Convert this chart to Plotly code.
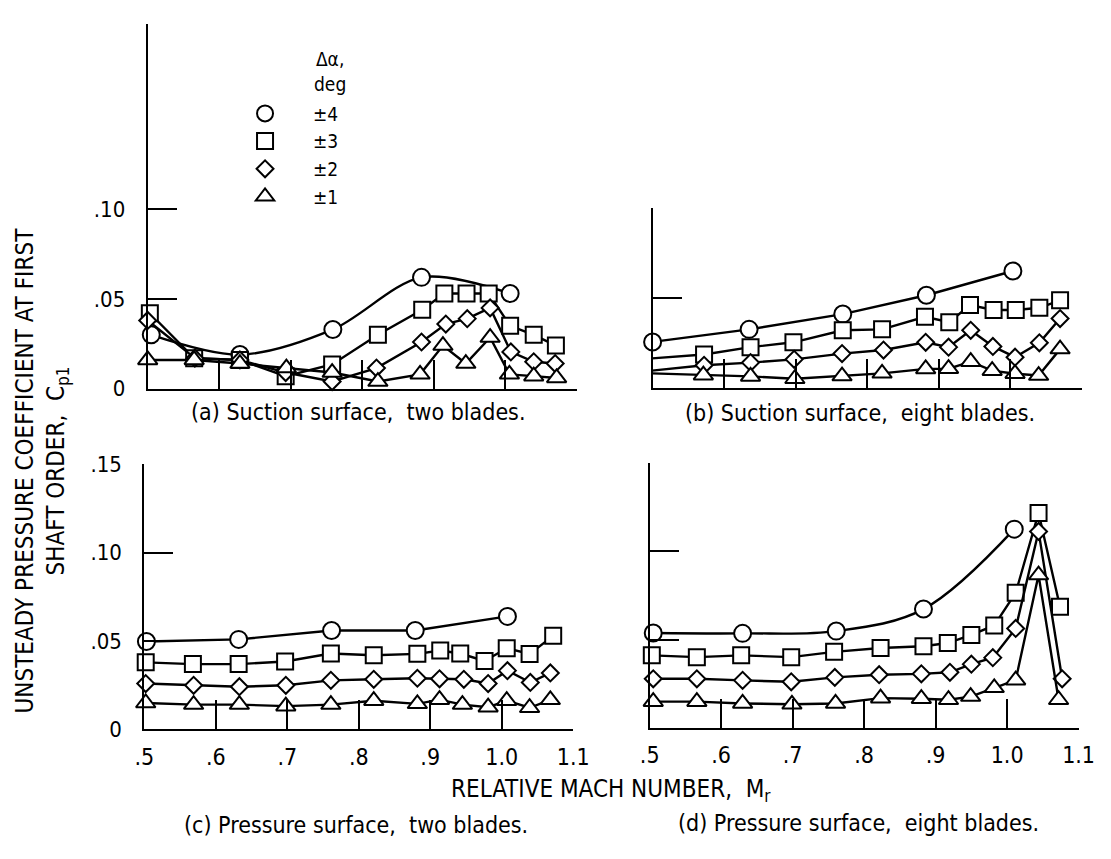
import plotly.graph_objects as go

# ---------------- data ----------------
series_names = ["±4", "±3", "±2", "±1"]

# (a) Suction surface, two blades
a_c_x = [0.505, 0.629, 0.759, 0.883, 1.007]
a_c_y = [0.030, 0.019, 0.033, 0.062, 0.053]
a_s_x = [0.503, 0.565, 0.629, 0.693, 0.758, 0.822, 0.884, 0.915, 0.946, 0.977, 1.007, 1.040, 1.071]
a_s_y = [0.042, 0.017, 0.016, 0.007, 0.0135, 0.030, 0.044, 0.053, 0.053, 0.053, 0.035, 0.030, 0.024]
a_d_x = [0.500, 0.566, 0.629, 0.693, 0.758, 0.820, 0.883, 0.917, 0.947, 0.979, 1.008, 1.040, 1.070]
a_d_y = [0.038, 0.017, 0.016, 0.009, 0.004, 0.0115, 0.026, 0.036, 0.039, 0.045, 0.0205, 0.015, 0.014]
a_t_x = [0.500, 0.565, 0.629, 0.694, 0.758, 0.822, 0.881, 0.913, 0.945, 0.979, 1.006, 1.040, 1.072]
a_t_y = [0.016, 0.016, 0.014, 0.0115, 0.009, 0.004, 0.008, 0.024, 0.014, 0.0285, 0.008, 0.007, 0.006]

# (b) Suction surface, eight blades
b_c_x = [0.500, 0.635, 0.766, 0.883, 1.004]
b_c_y = [0.0255, 0.0325, 0.041, 0.0515, 0.065]
b_s_x = [0.497, 0.572, 0.637, 0.697, 0.766, 0.821, 0.881, 0.915, 0.944, 0.977, 1.008, 1.041, 1.070]
b_s_y = [0.0163, 0.0185, 0.0226, 0.0253, 0.032, 0.0325, 0.0395, 0.0365, 0.046, 0.0433, 0.0433, 0.0445, 0.0487]
b_d_x = [0.498, 0.572, 0.637, 0.698, 0.765, 0.823, 0.882, 0.914, 0.945, 0.976, 1.007, 1.041, 1.070]
b_d_y = [0.0095, 0.0125, 0.014, 0.0158, 0.019, 0.021, 0.0253, 0.0226, 0.032, 0.023, 0.017, 0.025, 0.0385]
b_t_x = [0.499, 0.571, 0.637, 0.699, 0.765, 0.821, 0.882, 0.914, 0.945, 0.975, 1.007, 1.040, 1.070]
b_t_y = [0.008, 0.007, 0.0063, 0.005, 0.0065, 0.008, 0.0105, 0.0106, 0.0145, 0.0095, 0.0078, 0.0068, 0.0215]

# (c) Pressure surface, two blades
c_c_x = [0.503, 0.632, 0.762, 0.879, 1.008]
c_c_y = [0.0498, 0.051, 0.056, 0.056, 0.064]
c_s_x = [0.502, 0.568, 0.632, 0.697, 0.761, 0.821, 0.882, 0.914, 0.942, 0.976, 1.007, 1.039, 1.072]
c_s_y = [0.038, 0.037, 0.037, 0.0385, 0.043, 0.042, 0.0428, 0.0447, 0.043, 0.0388, 0.046, 0.0427, 0.053]
c_d_x = [0.502, 0.569, 0.633, 0.698, 0.761, 0.821, 0.882, 0.913, 0.947, 0.981, 1.008, 1.040, 1.068]
c_d_y = [0.026, 0.025, 0.0242, 0.025, 0.0278, 0.0284, 0.029, 0.0287, 0.0284, 0.026, 0.0333, 0.0266, 0.032]
c_t_x = [0.502, 0.569, 0.633, 0.698, 0.761, 0.821, 0.882, 0.913, 0.945, 0.981, 1.007, 1.039, 1.068]
c_t_y = [0.015, 0.0141, 0.0141, 0.0132, 0.0141, 0.0163, 0.0145, 0.0169, 0.0141, 0.0126, 0.0163, 0.0123, 0.0168]

# (d) Pressure surface, eight blades
d_c_x = [0.505, 0.630, 0.761, 0.883, 1.010]
d_c_y = [0.0537, 0.0535, 0.0548, 0.0673, 0.1127]
d_s_x = [0.503, 0.566, 0.628, 0.698, 0.758, 0.823, 0.883, 0.917, 0.950, 0.982, 1.012, 1.044, 1.074]
d_s_y = [0.041, 0.040, 0.041, 0.040, 0.043, 0.0452, 0.0462, 0.048, 0.0526, 0.058, 0.0765, 0.1219, 0.0686]
d_d_x = [0.505, 0.566, 0.630, 0.698, 0.759, 0.821, 0.880, 0.920, 0.950, 0.980, 1.012, 1.044, 1.077]
d_d_y = [0.0277, 0.0277, 0.0268, 0.026, 0.0285, 0.030, 0.0305, 0.0314, 0.036, 0.0397, 0.0563, 0.1114, 0.0277]
d_t_x = [0.505, 0.566, 0.630, 0.699, 0.760, 0.823, 0.880, 0.918, 0.949, 0.982, 1.012, 1.044, 1.072]
d_t_y = [0.0147, 0.0147, 0.0137, 0.0132, 0.0137, 0.0167, 0.0164, 0.0158, 0.0176, 0.0226, 0.0269, 0.0866, 0.0158]

x_tick_vals = [0.5, 0.6, 0.7, 0.8, 0.9, 1.0, 1.1]
x_tick_text = [".5", ".6", ".7", ".8", ".9", "1.0", "1.1"]
y_tick_vals_top = [0, 0.05, 0.10]
y_tick_text_top = ["0", ".05", ".10"]
y_tick_vals_bot = [0, 0.05, 0.10, 0.15]
y_tick_text_bot = ["0", ".05", ".10", ".15"]

captions = ["(a) Suction surface,  two blades.", "(b) Suction surface,  eight blades.",
            "(c) Pressure surface,  two blades.", "(d) Pressure surface,  eight blades."]

# ---------------- layout geometry (pixels) ----------------
W, H = 1111, 859
FONT = "DejaVu Sans Condensed, Liberation Sans Narrow, sans-serif"
PXU = 732  # px per Mach unit

def xd(px0):
    return [px0 / W, (px0 + 0.6 * PXU) / W]

def yd(bottom, top):
    return [1 - bottom / H, 1 - top / H]

panels = {
    "a": dict(x0=141, bottom=388, top=12, ymax=(388 - 12) / 1850),
    "b": dict(x0=658, bottom=387, top=202, ymax=0.10),
    "c": dict(x0=137.5, bottom=739, top=466, ymax=0.15),
    "d": dict(x0=655, bottom=737, top=465, ymax=0.15),
}

symbols = ["circle", "square", "diamond", "triangle-up"]
sizes = [17, 16, 13, 17]

data = {
    "a": [(a_c_x, a_c_y), (a_s_x, a_s_y), (a_d_x, a_d_y), (a_t_x, a_t_y)],
    "b": [(b_c_x, b_c_y), (b_s_x, b_s_y), (b_d_x, b_d_y), (b_t_x, b_t_y)],
    "c": [(c_c_x, c_c_y), (c_s_x, c_s_y), (c_d_x, c_d_y), (c_t_x, c_t_y)],
    "d": [(d_c_x, d_c_y), (d_s_x, d_s_y), (d_d_x, d_d_y), (d_t_x, d_t_y)],
}
spline_circles = {"a": 0.9, "b": 0, "c": 0, "d": 1.0}

fig = go.Figure()
axis_ids = {"a": "", "b": "2", "c": "3", "d": "4"}

for key in ["a", "b", "c", "d"]:
    aid = axis_ids[key]
    for i, (xs, ys) in enumerate(data[key]):
        sm = spline_circles[key] if i == 0 else 0
        shape = "spline" if sm > 0 else "linear"
        line = dict(color="black", width=2.4, shape=shape)
        if sm > 0:
            line["smoothing"] = sm
        fig.add_trace(go.Scatter(
            x=xs, y=ys, mode="lines+markers", name=series_names[i],
            showlegend=False,
            line=line,
            marker=dict(symbol=symbols[i], size=sizes[i], color="white",
                        line=dict(color="black", width=2)),
            cliponaxis=False,
            xaxis="x" + aid, yaxis="y" + aid,
        ))

# legend-only entries (symbols without lines, as in the key of the original)
for i, name in enumerate(series_names):
    fig.add_trace(go.Scatter(
        x=[None], y=[None], mode="markers", name=name, showlegend=True, legendrank=i,
        marker=dict(symbol=symbols[i], size=sizes[i], color="white",
                    line=dict(color="black", width=2)),
        xaxis="x", yaxis="y",
    ))

layout = dict(
    width=W, height=H, margin=dict(l=0, r=0, t=0, b=0),
    paper_bgcolor="white", plot_bgcolor="white",
    font=dict(family=FONT, size=21, color="black"),
    showlegend=True,
    legend=dict(
        x=212 / W, y=1 - 85 / H, xanchor="left", yanchor="top",
        bgcolor="rgba(0,0,0,0)", font=dict(size=19, family=FONT),
        itemwidth=86, tracegroupgap=0,
    ),
)

for key in ["a", "b", "c", "d"]:
    p = panels[key]
    aid = axis_ids[key]
    bottom_row = key in ("c", "d")
    left_col = key in ("a", "c")
    xa = dict(
        domain=xd(p["x0"]), range=[0.5, 1.1], anchor="y" + aid,
        showline=True, linecolor="black", linewidth=2, showgrid=False, zeroline=False,
        tickmode="array", tickvals=x_tick_vals[1:], ticktext=x_tick_text[1:],
        ticks="inside", ticklen=29, tickwidth=2, tickcolor="black",
        showticklabels=bottom_row, tickfont=dict(size=23, family=FONT),
        ticklabelstandoff=6,
    )
    if bottom_row:
        xa["tickvals"] = x_tick_vals
        xa["ticktext"] = x_tick_text
    if key == "a":
        yvals, ytext = y_tick_vals_top, y_tick_text_top
    elif key == "b":
        yvals, ytext = y_tick_vals_top[1:], y_tick_text_top[1:]
    elif key == "c":
        yvals, ytext = y_tick_vals_bot, y_tick_text_bot
    else:
        yvals, ytext = y_tick_vals_bot[1:], y_tick_text_bot[1:]
    ya = dict(
        domain=yd(p["bottom"], p["top"]), range=[0, p["ymax"]], anchor="x" + aid,
        showline=True, linecolor="black", linewidth=2, showgrid=False, zeroline=False,
        tickmode="array", tickvals=yvals, ticktext=ytext,
        ticks="inside", ticklen=29, tickwidth=2, tickcolor="black",
        showticklabels=left_col, tickfont=dict(size=22, family=FONT),
        ticklabelstandoff=16,
    )
    layout["xaxis" + aid] = xa
    layout["yaxis" + aid] = ya

fig.update_layout(**layout)

annotations = []
cap_pos = [(356, 412), (870, 413), (354, 837), (869, 835)]
for text, (cx, cy) in zip(captions, cap_pos):
    annotations.append(dict(text=text, x=cx / W, y=1 - cy / H, xref="paper", yref="paper",
                            xanchor="center", yanchor="middle", showarrow=False,
                            font=dict(size=23, family=FONT)))
annotations.append(dict(text="RELATIVE MACH NUMBER,  M<sub>r</sub>", x=615 / W, y=1 - 784 / H,
                        xref="paper", yref="paper", xanchor="center", yanchor="top",
                        showarrow=False, font=dict(size=24, family=FONT)))
annotations.append(dict(text="UNSTEADY PRESSURE COEFFICIENT AT FIRST<br>SHAFT ORDER,  C<sub>p1</sub>",
                        x=33 / W, y=1 - 472 / H, xref="paper", yref="paper",
                        xanchor="center", yanchor="middle", textangle=-90, showarrow=False,
                        font=dict(size=24, family=FONT)))
annotations.append(dict(text="Δα,<br>deg", x=328 / W, y=1 - 61 / H, xref="paper", yref="paper",
                        xanchor="center", yanchor="middle", align="center", showarrow=False,
                        font=dict(size=19, family=FONT)))
fig.update_layout(annotations=annotations)

fig.write_html("out.html")
